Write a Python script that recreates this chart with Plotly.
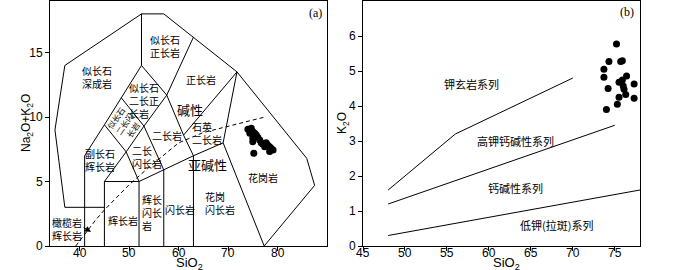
import plotly.graph_objects as go

# ---------------- data : panel (a) TAS (Middlemost 1994, plutonic) ----------------
tas_x_ticks = [40, 50, 60, 70, 80]
tas_y_ticks = [0, 5, 10, 15]

# boundary polylines (SiO2, Na2O+K2O)
tas_outline_x = [37, 35, 37, 52.5, 57, 63, 71.8, 85.9, 87.5, 77.3]
tas_outline_y = [3, 9, 14, 18, 18, 16.2, 13.5, 6.8, 4.7, 0]
tas_lines = [
    ([41, 41, 45, 48.4, 52.5, 52.5], [0, 7, 9.4, 11.5, 14, 18]),
    ([37, 45], [3, 3]),
    ([45, 45, 52, 52], [0, 5, 5, 0]),
    ([45, 49.4, 53, 57.6, 63], [5, 7.3, 9.3, 11.7, 16.2]),
    ([45, 49.4, 52], [9.4, 7.3, 5]),
    ([48.4, 53, 57, 57], [11.5, 9.3, 5.9, 0]),
    ([52.5, 57.6, 61, 63, 63], [14, 11.7, 8.6, 7, 0]),
    ([52, 57, 63, 69, 77.3], [5, 5.9, 7, 8, 0]),
    ([61, 71.8], [8.6, 13.5]),
    ([69, 71.8], [8, 13.5]),
]
# Irvine & Baragar alkaline / subalkaline divide
ib_x = [39.2, 40, 43.2, 45, 48, 50, 53.7, 55, 60, 65, 77.4]
ib_y = [0, 0.4, 2, 2.8, 4, 4.75, 6, 6.4, 8, 8.8, 10]

tas_sio2 = [74.0, 74.7, 75.0, 74.4, 75.4, 75.7, 75.0, 76.0, 76.4, 75.0,
            76.7, 77.0, 77.7, 78.0, 77.4, 78.4, 78.7, 79.1, 78.4, 75.2]
tas_alk = [9.05, 9.13, 8.87, 8.74, 8.74, 8.61, 8.36, 8.43, 8.22, 8.09,
           8.01, 7.91, 8.01, 7.84, 7.70, 7.70, 7.58, 7.45, 7.32, 7.19]

tas_labels = ["似长石<br>深成岩", "似长石<br>正长岩", "似长石<br>二长正<br>长岩", "正长岩",
              "石英<br>二长岩", "二长岩", "副长石<br>辉长岩", "二长<br>闪长岩", "花岗岩",
              "花岗<br>闪长岩", "辉长<br>闪长<br>岩", "闪长岩", "辉长岩", "橄榄岩<br>辉长岩"]
tas_label_x = [43.5, 57.3, 53.0, 64.5, 65.7, 57.7, 44.1, 53.6, 77.1, 68.4, 54.6, 60.2, 48.8, 37.4]
tas_label_y = [13.1, 15.5, 11.3, 12.95, 8.8, 8.6, 6.7, 6.9, 5.3, 3.3, 2.6, 2.8, 1.95, 1.35]
tas_big_labels = ["碱性", "亚碱性"]
tas_big_x = [62.3, 65.9]
tas_big_y = [10.55, 6.3]

# ---------------- data : panel (b) K2O vs SiO2 ----------------
k_x_ticks = [45, 50, 55, 60, 65, 70, 75]
k_y_ticks = [0, 1, 2, 3, 4, 5, 6]
k_lines = [
    ([48, 56, 70], [1.6, 3.2, 4.8]),
    ([48, 75], [1.2, 3.45]),
    ([48, 78], [0.3, 1.6]),
]
k_sio2 = [75.2, 74.3, 75.7, 75.9, 73.7, 73.7, 76.4, 75.9, 75.5, 77.3,
          76.0, 74.2, 76.1, 76.3, 75.5, 77.3, 75.3, 74.0]
k_k2o = [5.77, 5.27, 5.27, 5.29, 5.05, 4.82, 4.86, 4.74, 4.68, 4.63,
         4.57, 4.50, 4.48, 4.33, 4.25, 4.22, 4.05, 3.90]
k_labels = ["钾玄岩系列", "高钾钙碱性系列", "钙碱性系列", "低钾(拉斑)系列"]
k_label_x = [57.9, 63.2, 63.2, 68.1]
k_label_y = [4.64, 3.0, 1.66, 0.59]

CJK = "Noto Sans CJK SC"
SANS = "Liberation Sans"

fig = go.Figure()

line_style = dict(color="black", width=1)
fig.add_trace(go.Scatter(x=tas_outline_x, y=tas_outline_y, mode="lines", line=line_style,
                         xaxis="x", yaxis="y", hoverinfo="skip"))
for lx, ly in tas_lines:
    fig.add_trace(go.Scatter(x=lx, y=ly, mode="lines", line=line_style,
                             xaxis="x", yaxis="y", hoverinfo="skip"))
fig.add_trace(go.Scatter(x=ib_x, y=ib_y, mode="lines",
                         line=dict(color="black", width=1, dash="4px,3px"),
                         xaxis="x", yaxis="y", hoverinfo="skip"))
fig.add_trace(go.Scatter(x=tas_sio2, y=tas_alk, mode="markers",
                         marker=dict(color="black", size=7),
                         xaxis="x", yaxis="y"))

for lx, ly in k_lines:
    fig.add_trace(go.Scatter(x=lx, y=ly, mode="lines", line=line_style,
                             xaxis="x2", yaxis="y2", hoverinfo="skip"))
fig.add_trace(go.Scatter(x=k_sio2, y=k_k2o, mode="markers",
                         marker=dict(color="black", size=7),
                         xaxis="x2", yaxis="y2"))

ann = []
for t, x, y in zip(tas_labels, tas_label_x, tas_label_y):
    ann.append(dict(text=t, x=x, y=y, xref="x", yref="y", showarrow=False,
                    font=dict(family=CJK, size=10, color="black"), align="left"))
for t, x, y in zip(tas_big_labels, tas_big_x, tas_big_y):
    ann.append(dict(text=t, x=x, y=y, xref="x", yref="y", showarrow=False,
                    font=dict(family=CJK, size=13, color="black")))
# rotated label inside small diamond
ann.append(dict(text="似长石<br>二长闪<br>长岩", x=49.0, y=9.5, xref="x", yref="y",
                showarrow=False, textangle=-55,
                font=dict(family=CJK, size=8, color="black")))
# pointer arrow for 橄榄辉长岩 field
ann.append(dict(text="", x=42.3, y=1.1, ax=40.5, ay=1.5, xref="x", yref="y",
                axref="x", ayref="y", showarrow=True, arrowhead=2, arrowsize=1.2,
                arrowwidth=1, arrowcolor="black"))
for t, x, y in zip(k_labels, k_label_x, k_label_y):
    ann.append(dict(text=t, x=x, y=y, xref="x2", yref="y2", showarrow=False,
                    font=dict(family=CJK, size=11, color="black")))

# x tick labels, placed tight under the axis like the original
TICK_Y = (246 - 252.5) / 245
for v in tas_x_ticks:
    ann.append(dict(text=str(v), x=v, y=TICK_Y, xref="x", yref="paper", showarrow=False,
                    xanchor="center", yanchor="middle",
                    font=dict(family=SANS, size=12, color="black")))
for v in k_x_ticks:
    ann.append(dict(text=str(v), x=v, y=TICK_Y, xref="x2", yref="paper", showarrow=False,
                    xanchor="center", yanchor="middle",
                    font=dict(family=SANS, size=12, color="black")))

# panel tags and axis titles
def paper_text(text, px, py, size, family=SANS, angle=0):
    return dict(text=text, x=px / 700, y=(246 - py) / 245, xref="paper", yref="paper",
                xanchor="center", yanchor="middle", showarrow=False, textangle=angle,
                font=dict(family=family, size=size, color="black"))

ann += [
    paper_text("(a)", 315, 13, 12, family="Liberation Serif"),
    paper_text("(b)", 627, 12, 12, family="Liberation Serif"),
    paper_text("SiO<sub>2</sub>", 189, 263, 13),
    paper_text("SiO<sub>2</sub>", 506, 263, 13),
    paper_text("Na<sub>2</sub>O+K<sub>2</sub>O", 27, 123, 12, angle=-90),
    paper_text("K<sub>2</sub>O", 343, 123, 12, angle=-90),
]

axis_common = dict(showline=True, linecolor="black", linewidth=1, mirror=True,
                   showgrid=False, zeroline=False, ticks="outside", ticklen=4,
                   tickcolor="black", automargin=False,
                   tickfont=dict(family=SANS, size=12, color="black"))

fig.update_layout(
    width=700, height=270,
    margin=dict(l=0, r=0, t=1, b=24),
    paper_bgcolor="white", plot_bgcolor="white",
    showlegend=False,
    xaxis=dict(domain=[50 / 700, 327 / 700], range=[34, 90], tickvals=tas_x_ticks,
               showticklabels=False, anchor="y", **axis_common),
    yaxis=dict(domain=[0, 1], range=[0, 19], tickvals=tas_y_ticks, anchor="x", **axis_common),
    xaxis2=dict(domain=[363 / 700, 640 / 700], range=[45, 78], tickvals=k_x_ticks,
                showticklabels=False, anchor="y2", **axis_common),
    yaxis2=dict(domain=[0, 1], range=[0, 7], tickvals=k_y_ticks, anchor="x2", **axis_common),
    annotations=ann,
)

fig.write_html("out.html", config={"displayModeBar": False},
               post_script="document.body.style.margin='0';document.body.style.overflow='hidden';")
